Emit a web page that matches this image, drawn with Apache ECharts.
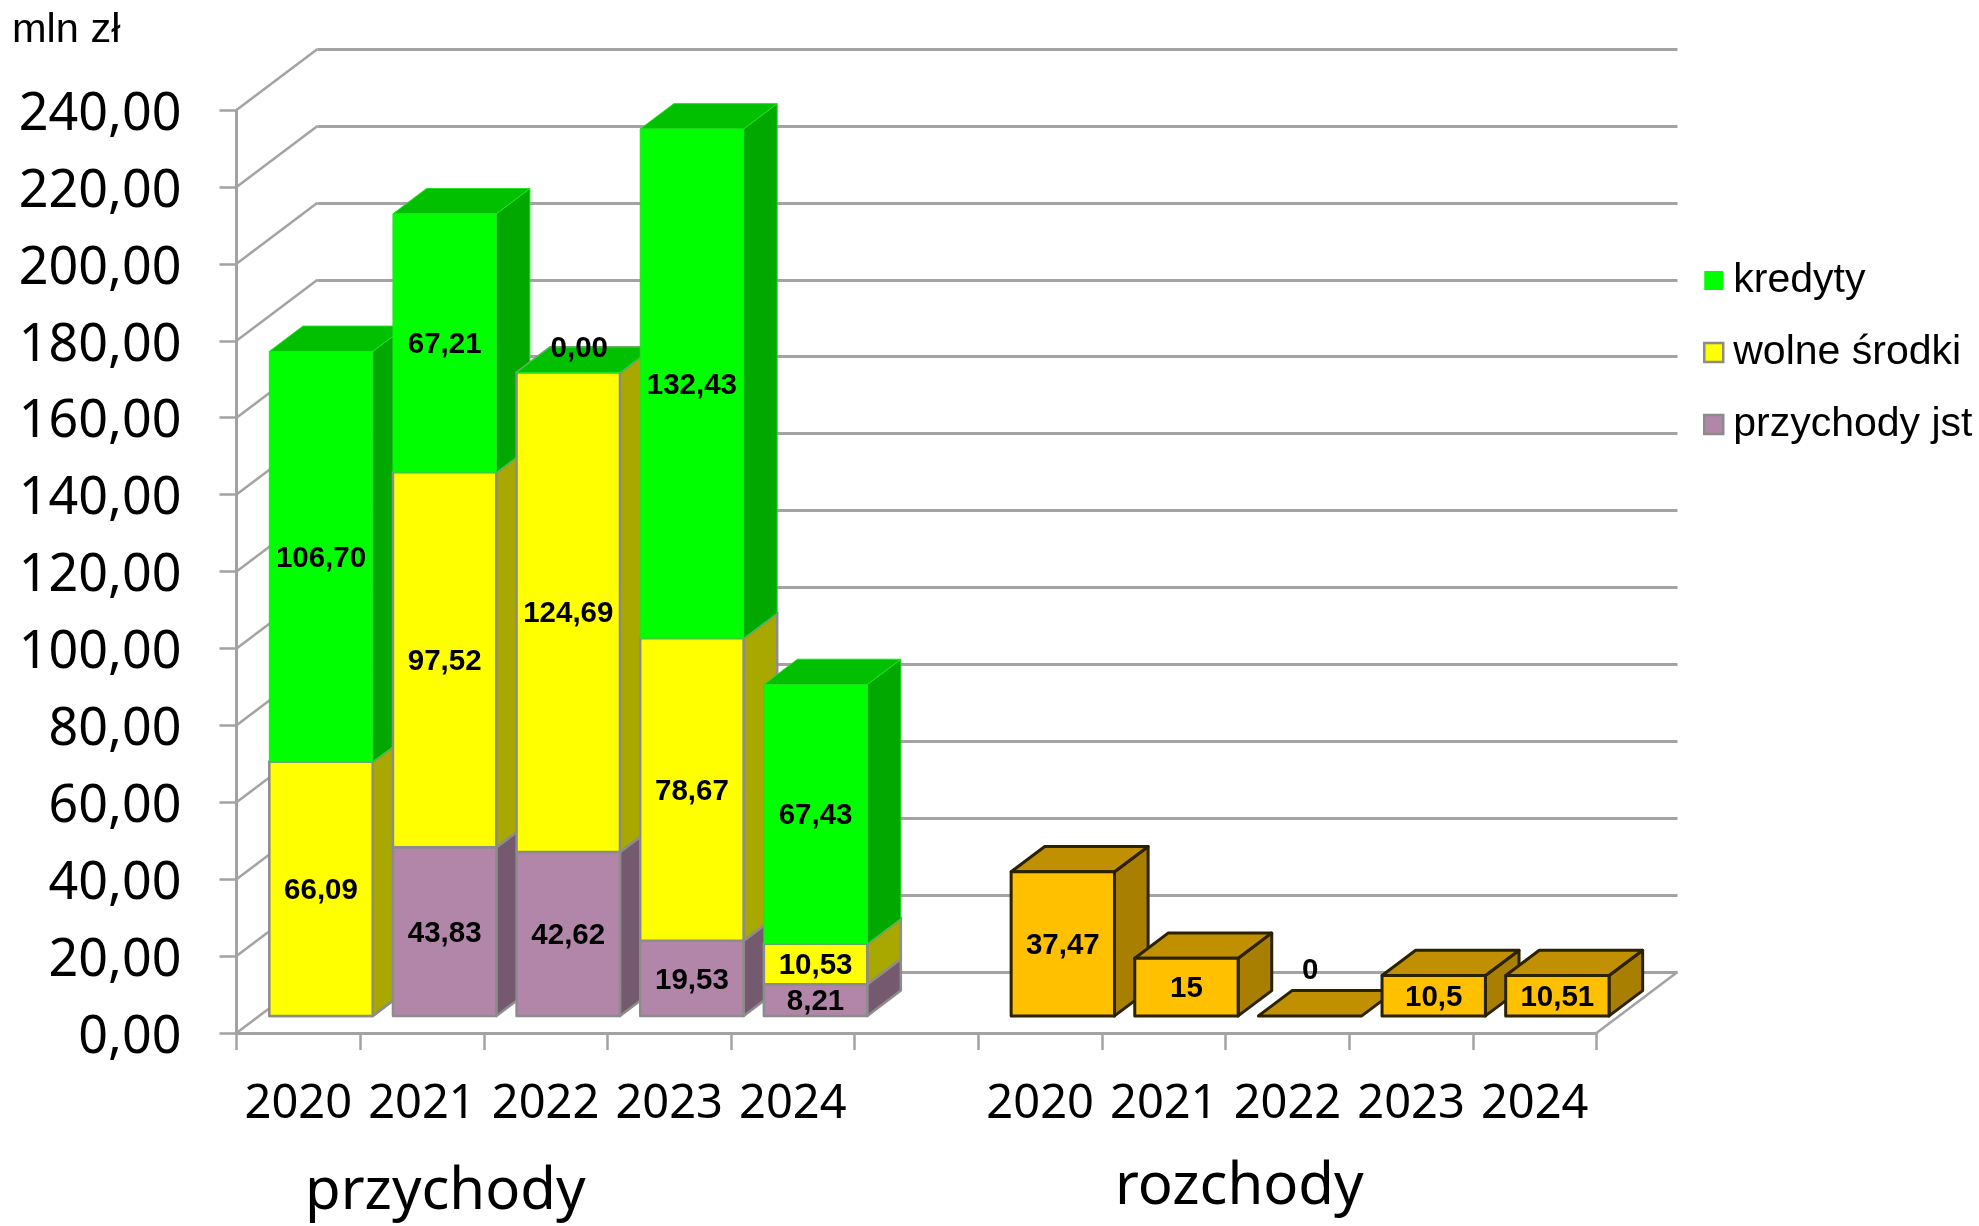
<!DOCTYPE html>
<html><head><meta charset="utf-8">
<style>html,body{margin:0;padding:0;background:#fff}#c{width:1979px;height:1226px}</style>
<script src="https://cdn.jsdelivr.net/npm/echarts@6/dist/echarts.min.js"></script>
</head><body><div id="c"></div>
<script>
const categories = ['2020','2021','2022','2023','2024','','2020','2021','2022','2023','2024'];
const przychodyJst = [0, 43.83, 42.62, 19.53, 8.21];
const wolneSrodki = [66.09, 97.52, 124.69, 78.67, 10.53];
const kredyty = [106.70, 67.21, 0, 132.43, 67.43];
const rozchody = [37.47, 15, 0, 10.5, 10.51];
const yTicks = [0,20,40,60,80,100,120,140,160,180,200,220,240];

const DX = 81, DY = 61;
const FRONT = 0.28, DEPTH = 0.415;
const fmt2 = v => v.toFixed(2).replace('.', ',');
const fmtRaw = v => String(v).replace('.', ',');

const stack = [przychodyJst, wolneSrodki, kredyty];
function stackedRows(level) {
  return stack[level].map((v, i) => {
    let base = 0;
    for (let k = 0; k < level; k++) base += stack[k][i];
    return [i, base, base + v, v];
  });
}

function boxRenderer(look) {
  return function (params, api) {
    const i = api.value(0), b = api.value(1), t = api.value(2), v = api.value(3);
    const pb = api.coord([i, b]), pt = api.coord([i, t]);
    const w = api.size([1, 0])[0] * 0.836;
    const x0 = pb[0] + DX * FRONT - w / 2, x1 = x0 + w;
    const y0 = pb[1] - DY * FRONT, y1 = pt[1] - DY * FRONT;
    const ox = DX * DEPTH, oy = DY * DEPTH;
    const z = i * 10 + look.level;
    const sty = (fill) => ({ fill, stroke: look.stroke, lineWidth: look.lw, lineJoin: 'round' });
    const kids = [];
    if (v > 0) {
      kids.push({ type: 'polygon', z2: z, shape: { points: [[x1, y0], [x1 + ox, y0 - oy], [x1 + ox, y1 - oy], [x1, y1]] }, style: sty(look.side) });
    }
    kids.push({ type: 'polygon', z2: z, shape: { points: [[x0, y1], [x0 + ox, y1 - oy], [x1 + ox, y1 - oy], [x1, y1]] }, style: sty(look.top) });
    if (v > 0) {
      kids.push({ type: 'rect', z2: z, shape: { x: x0, y: y1, width: w, height: y0 - y1 }, style: sty(look.front) });
    }
    if (v > 0 || look.zero) {
      const shift = v > 0 ? [0, 2] : look.zero;
      kids.push({ type: 'text', z2: 1000, style: {
        x: (x0 + x1) / 2 + shift[0], y: (y0 + y1) / 2 + shift[1],
        text: look.fmt(v), fill: '#000', align: 'center', verticalAlign: 'middle',
        font: 'bold 29.5px "Liberation Sans", Arial, sans-serif' } });
    }
    return { type: 'group', children: kids };
  };
}

const looks = {
  jst:   { level: 0, front: '#B286A8', side: '#75596F', top: '#8E6B86', stroke: '#8C8C8C', lw: 2.5, fmt: fmt2 },
  wolne: { level: 1, front: '#FFFF00', side: '#A8A800', top: '#C0C000', stroke: '#8C8C8C', lw: 2.5, fmt: fmt2 },
  kred:  { level: 2, front: '#00FF00', side: '#00A800', top: '#00C000', stroke: '#22E022', lw: 1, fmt: fmt2, zero: [11, -24] },
  roz:   { level: 0, front: '#FFC000', side: '#A87F00', top: '#C09000', stroke: '#2A2200', lw: 3, fmt: fmtRaw, zero: [0, -45] }
};

const rozRows = rozchody.map((v, i) => [i + 6, 0, v, v]);

const chart = echarts.init(document.getElementById('c'), null, { renderer: 'canvas' });
const AXIS_GRAY = '#A3A3A3';
const LEFT = 236.5, TOP = 110, W = 1360, H = 923;

chart.setOption({
  animation: false,
  backgroundColor: '#fff',
  textStyle: { fontFamily: '"Noto Sans", sans-serif' },
  grid: [
    { left: LEFT, top: TOP, width: W, height: H },
    { left: LEFT + DX, top: TOP - DY, width: W, height: H }
  ],
  xAxis: [
    { type: 'category', gridIndex: 0, data: categories, boundaryGap: true,
      axisLine: { lineStyle: { color: AXIS_GRAY, width: 3 } },
      axisTick: { show: true, length: 17, interval: 0, lineStyle: { color: AXIS_GRAY, width: 2.5 } },
      axisLabel: { interval: 0, margin: 48, fontSize: 47, color: '#000', fontFamily: '"Noto Sans", sans-serif' } },
    { type: 'value', gridIndex: 1, min: 0, max: 1, show: false, splitLine: { show: false } }
  ],
  yAxis: [
    { type: 'value', gridIndex: 0, min: 0, max: 240, interval: 20,
      axisLine: { show: true, lineStyle: { color: AXIS_GRAY, width: 3 } },
      axisTick: { show: true, length: 17, lineStyle: { color: AXIS_GRAY, width: 2.5 } },
      splitLine: { show: false },
      axisLabel: { margin: 55, formatter: v => '{n|' + fmt2(v) + '}',
        rich: { n: { fontSize: 52, color: '#000', fontFamily: '"Noto Sans", sans-serif', padding: [10, 0, 0, 0] } } } },
    { type: 'value', gridIndex: 1, min: 0, max: 240, interval: 20,
      axisLine: { show: false }, axisTick: { show: false }, axisLabel: { show: false },
      splitLine: { show: true, lineStyle: { color: AXIS_GRAY, width: 3 } } }
  ],
  legend: {
    orient: 'vertical', left: 1698, top: 255, itemWidth: 19, itemHeight: 19, itemGap: 31,
    icon: 'rect', selectedMode: false, itemStyle: {},
    textStyle: { fontFamily: '"Liberation Sans", Arial, sans-serif', fontSize: 41, color: '#000', padding: [0, 0, 0, 5] },
    data: [
      { name: 'kredyty', itemStyle: { color: '#00FF00', borderWidth: 0 } },
      { name: 'wolne środki', itemStyle: { color: '#FFFF00', borderColor: '#8C8C8C', borderWidth: 2.5 } },
      { name: 'przychody jst', itemStyle: { color: '#B286A8', borderColor: '#8C8C8C', borderWidth: 2.5 } }
    ]
  },
  graphic: [
    { type: 'text', left: 12, top: 10, style: { text: 'mln zł', fill: '#000', font: '41.5px "Liberation Sans", Arial, sans-serif' } },
    { type: 'text', left: 305, top: 1163, style: { text: 'przychody', fill: '#000', font: '58px "Noto Sans", sans-serif' } },
    { type: 'text', left: 1115, top: 1158, style: { text: 'rozchody', fill: '#000', font: '58px "Noto Sans", sans-serif' } }
  ],
  series: [
    { type: 'custom', name: 'walls', xAxisIndex: 0, yAxisIndex: 0, z: 1, silent: true, clip: false,
      data: yTicks.map(v => [v]),
      renderItem(params, api) {
        const y = api.value(0), p = api.coord([0, y]);
        const x = LEFT;
        const kids = [{ type: 'line', shape: { x1: x, y1: p[1], x2: x + DX, y2: p[1] - DY }, style: { stroke: AXIS_GRAY, lineWidth: 2.5 } }];
        if (y === 0) kids.push({ type: 'line', shape: { x1: x + W, y1: p[1], x2: x + W + DX, y2: p[1] - DY }, style: { stroke: AXIS_GRAY, lineWidth: 2.5 } });
        return { type: 'group', children: kids };
      } },
    { type: 'custom', name: 'przychody jst', clip: false, itemStyle: { color: '#B286A8' }, data: stackedRows(0), renderItem: boxRenderer(looks.jst) },
    { type: 'custom', name: 'wolne środki', clip: false, itemStyle: { color: '#FFFF00' }, data: stackedRows(1), renderItem: boxRenderer(looks.wolne) },
    { type: 'custom', name: 'kredyty', clip: false, itemStyle: { color: '#00FF00' }, data: stackedRows(2), renderItem: boxRenderer(looks.kred) },
    { type: 'custom', name: 'rozchody', clip: false, itemStyle: { color: '#FFC000' }, data: rozRows, renderItem: boxRenderer(looks.roz) }
  ]
});
</script></body></html>
